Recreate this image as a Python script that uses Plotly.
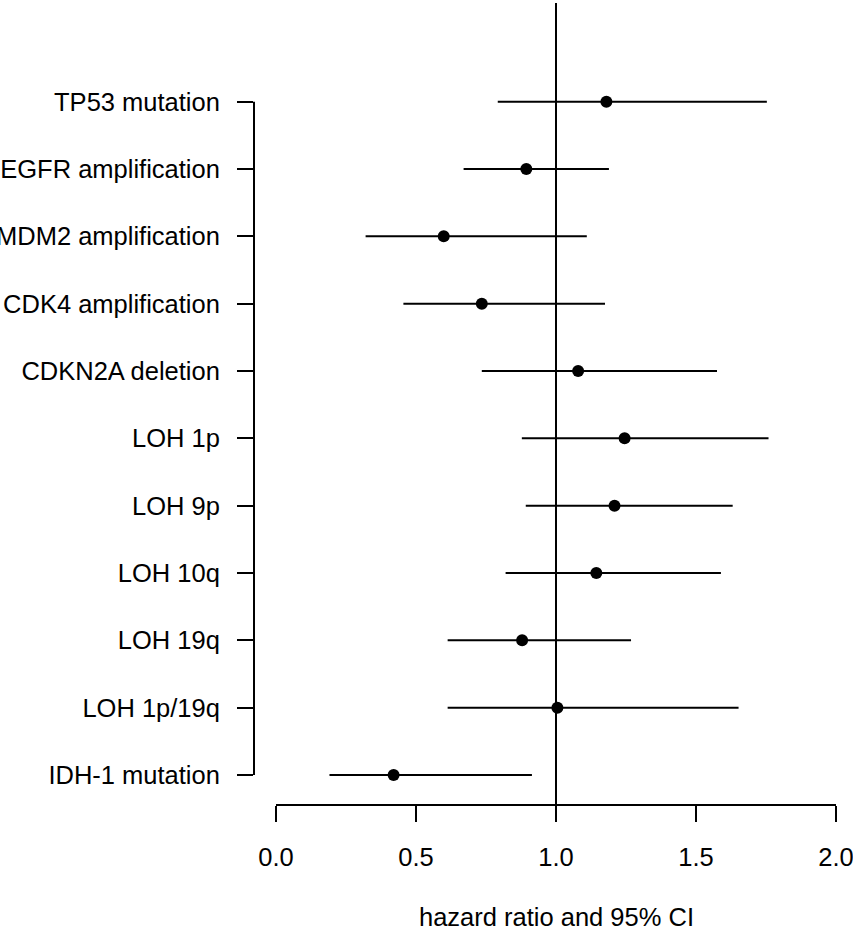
import plotly.graph_objects as go

# ---- data (top row first) ----
labels = ["TP53 mutation", "EGFR amplification", "MDM2 amplification",
          "CDK4 amplification", "CDKN2A deletion", "LOH 1p", "LOH 9p",
          "LOH 10q", "LOH 19q", "LOH 1p/19q", "IDH-1 mutation"]
hr = [1.180, 0.894, 0.599, 0.735, 1.079, 1.245, 1.209, 1.144, 0.879, 1.005, 0.420]
lower = [0.792, 0.670, 0.320, 0.455, 0.735, 0.878, 0.892, 0.820, 0.613, 0.613, 0.191]
upper = [1.753, 1.189, 1.110, 1.175, 1.575, 1.759, 1.631, 1.589, 1.268, 1.652, 0.914]
x_ticks = [0.0, 0.5, 1.0, 1.5, 2.0]
x_title = "hazard ratio and 95% CI"

FONT = "Liberation Sans, Arial, Helvetica, sans-serif"
FS = 25.5

fig = go.Figure()
fig.add_trace(go.Scatter(
    x=hr, y=labels, mode="markers",
    marker=dict(symbol="circle", size=12, color="black"),
    error_x=dict(type="data", symmetric=False,
                 array=[u - h for u, h in zip(upper, hr)],
                 arrayminus=[h - l for h, l in zip(hr, lower)],
                 width=0, thickness=2, color="black"),
    showlegend=False, cliponaxis=False,
))

n = len(labels)
fig.update_layout(
    width=853, height=932,
    margin=dict(l=254, r=0, t=3, b=127, autoexpand=False),
    paper_bgcolor="white", plot_bgcolor="white",
    font=dict(family=FONT, size=FS, color="black"),
    xaxis=dict(range=[-22 / 280, 577 / 280], tickvals=x_ticks,
               ticktext=[f"{v:.1f}" for v in x_ticks],
               showgrid=False, zeroline=False, showline=False,
               ticks="outside", ticklen=16, tickwidth=2, tickcolor="black",
               tickfont=dict(family=FONT, size=FS, color="black"),
               ticklabelstandoff=13, ticklabeloverflow="allow",
               automargin=False),
    yaxis=dict(type="category", categoryorder="array",
               categoryarray=labels[::-1],
               range=[-0.4456, n - 1 + 1.466],
               showgrid=False, zeroline=False, showline=False,
               ticks="outside", ticklen=16, tickwidth=2, tickcolor="black",
               tickfont=dict(family=FONT, size=FS, color="black"),
               ticklabelstandoff=12, ticklabeloverflow="allow",
               automargin=False),
    shapes=[
        # reference line at HR = 1
        dict(type="line", xref="x", yref="paper", x0=1, x1=1, y0=0, y1=1,
             line=dict(color="black", width=2)),
        # x axis line (from first to last tick, R style)
        dict(type="line", xref="x", yref="paper", x0=x_ticks[0], x1=x_ticks[-1],
             y0=0, y1=0, line=dict(color="black", width=2)),
        # y axis line (from first to last tick)
        dict(type="line", xref="paper", yref="y", x0=0, x1=0, y0=0, y1=n - 1,
             line=dict(color="black", width=2)),
    ],
    annotations=[dict(text=x_title, xref="x", yref="paper", x=1.0,
                      y=(805 - 917) / 802, xanchor="center", yanchor="middle",
                      showarrow=False,
                      font=dict(family=FONT, size=FS, color="black"))],
)

fig.write_html("out.html",
               config={"displayModeBar": False},
               post_script="document.body.style.margin='0px';document.body.style.overflow='hidden';")
